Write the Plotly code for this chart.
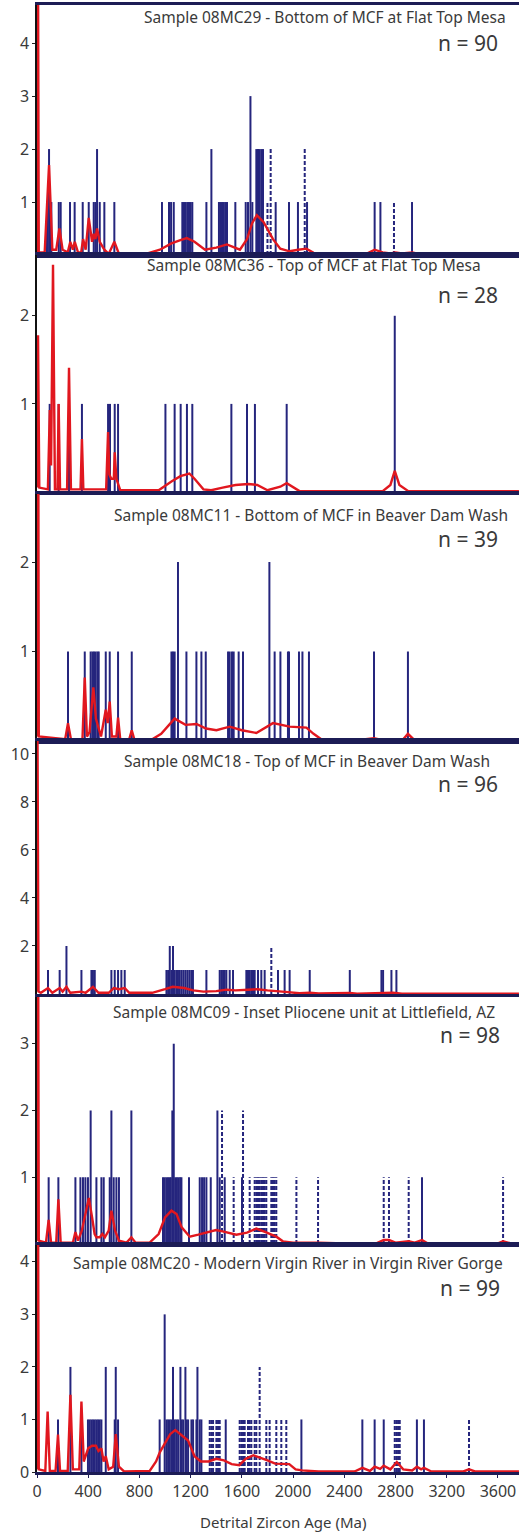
import plotly.graph_objects as go

# ---------------- data ----------------
TITLES = [
    "Sample 08MC29 - Bottom of MCF at Flat Top Mesa",
    "Sample 08MC36 - Top of MCF at Flat Top Mesa",
    "Sample 08MC11 - Bottom of MCF in Beaver Dam Wash",
    "Sample 08MC18 - Top of MCF in Beaver Dam Wash",
    "Sample 08MC09 - Inset Pliocene unit at Littlefield, AZ",
    "Sample 08MC20 - Modern Virgin River in Virgin River Gorge",
]
N_LABELS = ["n = 90", "n = 28", "n = 39", "n = 96", "n = 98", "n = 99"]
X_TICKS = [0, 400, 800, 1200, 1600, 2000, 2400, 2800, 3200, 3600]
Y_TICKS = [[1, 2, 3, 4], [1, 2], [1, 2], [2, 4, 6, 8, 10], [1, 2, 3], [0, 1, 2, 3, 4]]
X_TITLE = "Detrital Zircon Age (Ma)"

# Panel 1 - 08MC29
AGES_1 = [78, 94, 105, 112, 170, 185, 258, 294, 357, 404, 443, 456, 469, 490, 526, 604,
          976, 1031, 1047, 1068, 1135, 1148, 1161, 1174, 1187, 1200, 1213, 1323, 1362,
          1421, 1433, 1445, 1458, 1470, 1484, 1549, 1630, 1648, 1667, 1682,
          1713, 1726, 1739, 1752, 1765, 1864, 1968, 2038, 2109, 2637, 2682, 2929]
COUNTS_1 = [1, 2, 1, 1, 1, 1, 1, 1, 1, 1, 1, 1, 2, 1, 1, 1,
            1, 1, 1, 1, 1, 1, 1, 1, 1, 1, 1, 1, 2,
            1, 1, 1, 1, 1, 1, 1, 1, 1, 3, 1,
            2, 2, 2, 2, 2, 1, 1, 1, 1, 1, 1, 1]
DASH_AGES_1 = [1800, 1825, 2091, 2788]
DASH_COUNTS_1 = [1, 2, 2, 1]
PDP_AGE_1 = [0, 4, 14, 60, 94, 120, 150, 175, 200, 240, 260, 280, 295, 320, 345, 360, 380,
             404, 430, 443, 456, 469, 490, 510, 526, 560, 604, 640, 850, 960, 1050, 1120,
             1170, 1230, 1312, 1400, 1483, 1585, 1640, 1680, 1717, 1770, 1843, 1900, 1973,
             2040, 2104, 2160, 2250, 2560, 2637, 2700, 2760, 2800, 2850, 2930, 3000, 3764]
PDP_VAL_1 = [0.05, 9, 0.05, 0.05, 1.7, 0.1, 0.1, 0.5, 0.1, 0.05, 0.25, 0.1, 0.25, 0.05, 0.05, 0.3, 0.1,
             0.7, 0.25, 0.4, 0.3, 0.5, 0.25, 0.15, 0.1, 0.02, 0.25, 0.02, 0.02, 0.1, 0.22, 0.28,
             0.32, 0.25, 0.1, 0.14, 0.2, 0.1, 0.3, 0.6, 0.75, 0.62, 0.3, 0.12, 0.07,
             0.1, 0.12, 0.04, 0.01, 0.01, 0.1, 0.05, 0.03, 0.05, 0.03, 0.05, 0.01, 0.01]

# Panel 2 - 08MC36
AGES_2 = [99, 169, 250, 351, 555, 570, 607, 633, 1003, 1075, 1122, 1171, 1213, 1518, 1640, 1702, 1950, 2794]
COUNTS_2 = [1, 1, 1, 1, 1, 1, 1, 1, 1, 1, 1, 1, 1, 1, 1, 1, 1, 2]
DASH_AGES_2 = []
DASH_COUNTS_2 = []
PDP_AGE_2 = [0, 8, 18, 85, 100, 110, 125, 140, 160, 169, 180, 235, 250, 265, 340, 351, 362,
             540, 555, 565, 580, 600, 607, 620, 650, 950, 1050, 1120, 1190, 1230, 1300, 1360,
             1450, 1550, 1650, 1720, 1800, 1900, 1950, 2000, 2050, 2700, 2760, 2794, 2830, 2900, 3764]
PDP_VAL_2 = [0.05, 1.78, 0.05, 0.03, 0.93, 0.3, 2.58, 0.03, 0.03, 1.0, 0.03, 0.03, 1.41, 0.03, 0.03, 0.6, 0.03,
             0.03, 0.68, 0.2, 0.15, 0.15, 0.45, 0.15, 0.02, 0.02, 0.12, 0.18, 0.21, 0.15, 0.03, 0.02,
             0.05, 0.08, 0.09, 0.08, 0.02, 0.06, 0.1, 0.05, 0.01, 0.01, 0.08, 0.24, 0.08, 0.01, 0.01]

# Panel 3 - 08MC11
AGES_3 = [242, 373, 419, 433, 445, 458, 472, 482, 537, 568, 633, 740, 1050, 1062, 1075, 1101,
          1167, 1245, 1284, 1318, 1492, 1505, 1523, 1536, 1575, 1609, 1815, 1856, 1901, 1960,
          1968, 2046, 2073, 2124, 2632, 2897]
COUNTS_3 = [1, 1, 1, 1, 1, 1, 1, 1, 1, 1, 1, 1, 1, 1, 1, 2,
            1, 1, 1, 1, 1, 1, 1, 1, 1, 1, 2, 1, 1, 1,
            1, 1, 1, 1, 1, 1]
DASH_AGES_3 = []
DASH_COUNTS_3 = []
PDP_AGE_3 = [0, 4, 14, 220, 242, 265, 355, 373, 390, 410, 440, 460, 480, 500, 537, 552, 568, 585,
             620, 633, 650, 720, 740, 760, 900, 970, 1075, 1160, 1245, 1320, 1401, 1505, 1600,
             1713, 1843, 1973, 2104, 2160, 2220, 2500, 2632, 2700, 2860, 2897, 2940, 3764]
PDP_VAL_3 = [0.05, 9, 0.05, 0.02, 0.2, 0.02, 0.02, 0.71, 0.05, 0.1, 0.6, 0.25, 0.15, 0.05, 0.35, 0.2, 0.44, 0.05,
             0.05, 0.26, 0.02, 0.02, 0.12, 0.02, 0.02, 0.08, 0.25, 0.18, 0.19, 0.14, 0.12, 0.16, 0.12,
             0.09, 0.2, 0.16, 0.15, 0.08, 0.02, 0.01, 0.03, 0.01, 0.02, 0.08, 0.02, 0.01]

# Panel 4 - 08MC18
AGES_4 = [86, 177, 230, 347, 425, 437, 451, 581, 607, 633, 659, 685, 1011, 1024, 1037, 1050,
          1062, 1075, 1089, 1101, 1115, 1130, 1145, 1160, 1175, 1190, 1205, 1218, 1323, 1427,
          1440, 1453, 1466, 1479, 1505, 1531, 1635, 1648, 1661, 1674, 1687, 1700, 1726, 1752,
          1778, 1882, 1934, 1973, 2130, 2443, 2690, 2703, 2768, 2807]
COUNTS_4 = [1, 1, 2, 1, 1, 1, 1, 1, 1, 1, 1, 1, 1, 1, 2, 1,
            2, 1, 1, 1, 1, 1, 1, 1, 1, 1, 1, 1, 1, 1,
            1, 1, 1, 1, 1, 1, 1, 1, 1, 1, 1, 1, 1, 1,
            1, 1, 1, 1, 1, 1, 1, 1, 1, 1]
DASH_AGES_4 = [1830]
DASH_COUNTS_4 = [2]
PDP_AGE_4 = [0, 3, 12, 30, 86, 120, 177, 200, 230, 260, 347, 380, 437, 480, 560, 600, 640, 685,
             720, 900, 1000, 1060, 1150, 1220, 1300, 1400, 1480, 1550, 1650, 1720, 1800, 1880,
             1960, 2050, 2130, 2200, 2443, 2500, 2690, 2780, 2850, 3764]
PDP_VAL_4 = [0.1, 12, 0.1, 0.05, 0.25, 0.05, 0.25, 0.1, 0.3, 0.05, 0.1, 0.05, 0.3, 0.05, 0.05, 0.25, 0.2, 0.25,
             0.05, 0.05, 0.2, 0.3, 0.25, 0.15, 0.1, 0.12, 0.18, 0.15, 0.18, 0.2, 0.15, 0.1,
             0.08, 0.03, 0.05, 0.02, 0.04, 0.01, 0.05, 0.05, 0.01, 0.01]

# Panel 5 - 08MC09
AGES_5 = [91, 167, 300, 339, 359, 378, 398, 419, 464, 503, 521, 568, 581, 599, 620, 640, 737,
          984, 997, 1010, 1023, 1036, 1045, 1057, 1068, 1080, 1093, 1106, 1118, 1128, 1187,
          1271, 1289, 1305, 1323, 1357, 1409, 1427, 1466, 1601, 3007]
COUNTS_5 = [1, 1, 1, 1, 1, 1, 1, 2, 1, 1, 1, 1, 2, 1, 1, 1, 2,
            1, 1, 1, 1, 1, 1, 2, 3, 1, 1, 1, 1, 1, 1,
            1, 1, 1, 1, 1, 2, 1, 1, 1, 1]
DASH_AGES_5 = [1445, 1536, 1609, 1661, 1700, 1713, 1726, 1739, 1752, 1765, 1778, 1791,
               1830, 1843, 1856, 1869, 2026, 2195, 2708, 2749, 2903, 3640]
DASH_COUNTS_5 = [2, 1, 2, 1, 1, 1, 1, 1, 1, 1, 1, 1,
                 1, 1, 1, 1, 1, 1, 1, 1, 1, 1]
PDP_AGE_5 = [0, 4, 14, 70, 91, 110, 150, 167, 185, 280, 300, 320, 350, 380, 405, 430, 450, 464,
             490, 510, 530, 560, 581, 610, 640, 700, 737, 770, 880, 950, 1000, 1050, 1090, 1130,
             1193, 1260, 1330, 1398, 1450, 1557, 1640, 1713, 1780, 1869, 1920, 2000, 2200, 2400,
             2650, 2708, 2749, 2800, 2903, 2950, 3007, 3050, 3600, 3640, 3700, 3764]
PDP_VAL_5 = [0.05, 9, 0.05, 0.02, 0.36, 0.02, 0.02, 0.67, 0.02, 0.02, 0.18, 0.05, 0.2, 0.5, 0.69, 0.4, 0.15, 0.1,
             0.1, 0.15, 0.1, 0.2, 0.5, 0.2, 0.05, 0.02, 0.1, 0.02, 0.02, 0.15, 0.4, 0.5, 0.45, 0.25,
             0.11, 0.14, 0.17, 0.21, 0.19, 0.14, 0.17, 0.23, 0.18, 0.11, 0.04, 0.02, 0.02, 0.01,
             0.01, 0.06, 0.06, 0.02, 0.04, 0.02, 0.06, 0.01, 0.01, 0.04, 0.01, 0.01]

# Panel 6 - 08MC20
AGES_6 = [164, 261, 347, 398, 412, 425, 438, 451, 464, 477, 490, 503, 537, 607, 615, 633, 958,
          997, 1011, 1024, 1037, 1050, 1062, 1076, 1089, 1102, 1120, 1128, 1141, 1159, 1167,
          1180, 1206, 1219, 1245, 1253, 1271, 1284, 1474, 2065, 2541, 2637, 2708, 2967, 3022]
COUNTS_6 = [1, 2, 1, 1, 1, 1, 1, 1, 1, 1, 1, 1, 2, 1, 2, 1, 1,
            3, 1, 1, 1, 1, 2, 1, 1, 1, 2, 1, 1, 2, 1,
            1, 1, 1, 1, 2, 1, 1, 1, 1, 1, 1, 1, 1, 1]
DASH_AGES_6 = [1349, 1362, 1375, 1401, 1414, 1427, 1583, 1596, 1609, 1622, 1648, 1661, 1674,
               1700, 1713, 1739, 1791, 1817, 1869, 1908, 1947, 2794, 2807, 2820, 2833, 3374]
DASH_COUNTS_6 = [1, 1, 1, 1, 1, 1, 1, 1, 1, 1, 1, 1, 1,
                 1, 1, 2, 1, 1, 1, 1, 1, 1, 1, 1, 1, 1]
PDP_AGE_6 = [0, 4, 14, 65, 83, 100, 145, 164, 180, 240, 261, 280, 330, 347, 365, 400, 430, 460,
             480, 503, 520, 537, 560, 595, 615, 640, 680, 880, 930, 960, 1000, 1040, 1080, 1130,
             1180, 1230, 1280, 1340, 1400, 1460, 1520, 1580, 1630, 1690, 1740, 1800, 1860, 1920,
             1970, 2020, 2070, 2200, 2480, 2541, 2600, 2637, 2680, 2708, 2760, 2810, 2860, 2930,
             2967, 3000, 3022, 3080, 3330, 3374, 3420, 3764]
PDP_VAL_6 = [0.05, 9, 0.05, 0.02, 1.15, 0.02, 0.02, 0.71, 0.02, 0.02, 1.47, 0.05, 0.05, 1.34, 0.2, 0.45, 0.5, 0.5,
             0.4, 0.45, 0.2, 0.3, 0.05, 0.1, 0.72, 0.1, 0.01, 0.02, 0.2, 0.38, 0.55, 0.72, 0.8, 0.7,
             0.6, 0.3, 0.2, 0.2, 0.25, 0.22, 0.15, 0.13, 0.25, 0.32, 0.28, 0.22, 0.16, 0.15,
             0.15, 0.05, 0.03, 0.01, 0.01, 0.08, 0.02, 0.1, 0.06, 0.12, 0.05, 0.19, 0.05, 0.03,
             0.1, 0.05, 0.08, 0.01, 0.01, 0.05, 0.01, 0.01]

PANELS = [
    (AGES_1, COUNTS_1, DASH_AGES_1, DASH_COUNTS_1, PDP_AGE_1, PDP_VAL_1),
    (AGES_2, COUNTS_2, DASH_AGES_2, DASH_COUNTS_2, PDP_AGE_2, PDP_VAL_2),
    (AGES_3, COUNTS_3, DASH_AGES_3, DASH_COUNTS_3, PDP_AGE_3, PDP_VAL_3),
    (AGES_4, COUNTS_4, DASH_AGES_4, DASH_COUNTS_4, PDP_AGE_4, PDP_VAL_4),
    (AGES_5, COUNTS_5, DASH_AGES_5, DASH_COUNTS_5, PDP_AGE_5, PDP_VAL_5),
    (AGES_6, COUNTS_6, DASH_AGES_6, DASH_COUNTS_6, PDP_AGE_6, PDP_VAL_6),
]

# ---------------- layout geometry ----------------
W, H = 519, 1533
ML, MR, MT, MB = 37, 0, 5, 61
PX_PER_MA = 1 / 7.81
X_MAX = (W - ML - MR) / PX_PER_MA

# pixel (top, zero-line) of each panel
PANEL_PX = [(5, 255), (255, 492), (494, 741), (741, 994), (997, 1244), (1245, 1472)]
Y_MAX = [4.72, 2.69, 2.76, 10.54, 3.7, 4.32]
TITLE_PX = [(508, 17), (483, 265), (510, 515), (492, 761), (497, 1012), (505, 1263)]
NLAB_PX = [(500, 43), (500, 295), (500, 539), (500, 784), (502, 1035), (502, 1288)]

PH = H - MT - MB
PW = W - ML - MR


def py(y):
    return (H - MB - y) / PH


def px(x):
    return (x - ML) / PW


NAVY = "#25257d"
FRAME = "#1c1c55"
RED = "#e1171f"
TXT = "#3a3a3a"
FONT = "Noto Sans"

fig = go.Figure()


def segs(ages, counts):
    xs, ys = [], []
    for a, c in zip(ages, counts):
        xs += [a, a, None]
        ys += [0, c, None]
    return xs, ys


layout = dict(
    width=W, height=H,
    margin=dict(l=ML, r=MR, t=MT, b=MB, autoexpand=False),
    paper_bgcolor="white", plot_bgcolor="white",
    showlegend=False,
    font=dict(family=FONT, color=TXT),
)

annotations = []
for i, (ages, counts, dages, dcounts, pa, pv) in enumerate(PANELS):
    k = i + 1
    xa = "x" if k == 1 else f"x{k}"
    ya = "y" if k == 1 else f"y{k}"
    bx, by = segs(ages, counts)
    fig.add_trace(go.Scatter(x=bx, y=by, mode="lines", xaxis=xa, yaxis=ya,
                             line=dict(color=NAVY, width=2), hoverinfo="skip"))
    if dages:
        dx, dy = segs(dages, dcounts)
        fig.add_trace(go.Scatter(x=dx, y=dy, mode="lines", xaxis=xa, yaxis=ya,
                                 line=dict(color=NAVY, width=2, dash="4px,2px"),
                                 hoverinfo="skip"))
    fig.add_trace(go.Scatter(x=pa, y=pv, mode="lines", xaxis=xa, yaxis=ya,
                             line=dict(color=RED, width=2.4), hoverinfo="skip"))

    top, zero = PANEL_PX[i]
    bottom_panel = (k == 6)
    layout["xaxis" if k == 1 else f"xaxis{k}"] = dict(
        domain=[0, 1], range=[0, X_MAX], anchor=ya, automargin=False,
        showline=True, mirror=True, linecolor=FRAME, linewidth=2.5,
        showgrid=False, zeroline=False,
        tickvals=X_TICKS, ticks="outside" if bottom_panel else "",
        ticklen=3, tickcolor=FRAME,
        showticklabels=bottom_panel,
        tickfont=dict(size=16, color=TXT, family=FONT),
    )
    layout["yaxis" if k == 1 else f"yaxis{k}"] = dict(
        domain=[max(0, py(zero)), min(1, py(top))], range=[0, Y_MAX[i]], anchor=xa,
        automargin=False,
        showline=True, linecolor="#111111", linewidth=1.5,
        showgrid=False, zeroline=False,
        tickvals=Y_TICKS[i], ticks="outside", ticklen=3, tickcolor="#222222",
        tickfont=dict(size=16, color=TXT, family=FONT),
    )
    tx, ty = TITLE_PX[i]
    annotations.append(dict(text=TITLES[i], xref="paper", yref="paper",
                            x=px(tx), y=py(ty), xanchor="right", yanchor="middle",
                            showarrow=False, font=dict(size=15.5, color=TXT, family=FONT)))
    nx, ny = NLAB_PX[i]
    annotations.append(dict(text=N_LABELS[i], xref="paper", yref="paper",
                            x=px(nx), y=py(ny), xanchor="right", yanchor="middle",
                            showarrow=False, font=dict(size=21, color=TXT, family=FONT)))

annotations.append(dict(text=X_TITLE, xref="paper", yref="paper",
                        x=px(283), y=py(1522), xanchor="center", yanchor="middle",
                        showarrow=False, font=dict(size=15, color=TXT, family=FONT)))
layout["annotations"] = annotations
fig.update_layout(**layout)

fig.write_html(
    "out.html",
    config={"displayModeBar": False},
    post_script="document.body.style.margin='0';document.body.style.overflow='hidden';"
                "document.documentElement.style.overflow='hidden';",
)
